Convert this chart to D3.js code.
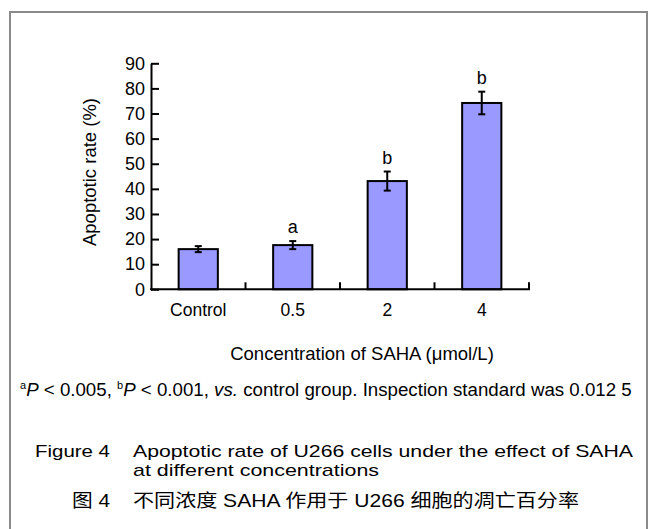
<!DOCTYPE html>
<html>
<head>
<meta charset="utf-8">
<script src="https://cdn.jsdelivr.net/npm/d3@7"></script>
<style>
  body { margin: 0; background: #fff; }
  svg { display: block; }
  text { font-family: Arial, "Liberation Sans", "Noto Sans CJK SC", sans-serif; fill: #000; }
</style>
</head>
<body>
<script>
// values
const categories = ["Control", "0.5", "2", "4"];
const means = [16.0, 17.6, 43.1, 74.2];
const errors = [1.2, 1.6, 3.8, 4.5];
const marks = ["", "a", "b", "b"];
const yTicks = [0, 10, 20, 30, 40, 50, 60, 70, 80, 90];

const width = 652;
const height = 529;
const margin = { top: 63.3, left: 151, right: 123, bottom: 239.7 };

const rows = categories.map((c, i) => ({ cat: c, mean: means[i], err: errors[i], mark: marks[i] }));

const svg = d3.create("svg")
  .attr("width", width)
  .attr("height", height);

// outer frame (bottom edge runs off the picture)
svg.append("rect")
  .attr("x", 10).attr("y", 12)
  .attr("width", 637).attr("height", 540)
  .attr("fill", "none")
  .attr("stroke", "#8a8a8a")
  .attr("stroke-width", 2);

const x = d3.scaleBand()
  .domain(categories)
  .range([margin.left, width - margin.right])
  .paddingInner(0.585)
  .paddingOuter(0.2925);

const y = d3.scaleLinear()
  .domain([0, 90])
  .range([height - margin.bottom, margin.top]);

// bars
svg.append("g")
  .selectAll("rect")
  .data(rows)
  .join("rect")
  .attr("x", d => x(d.cat))
  .attr("y", d => y(d.mean))
  .attr("width", x.bandwidth())
  .attr("height", d => y(0) - y(d.mean))
  .attr("fill", "#9999ff")
  .attr("stroke", "#000")
  .attr("stroke-width", 2);

// error bars
const eb = svg.append("g")
  .attr("stroke", "#000")
  .attr("stroke-width", 2)
  .selectAll("g")
  .data(rows)
  .join("g")
  .attr("transform", d => `translate(${x(d.cat) + x.bandwidth() / 2},0)`);
eb.append("line")
  .attr("y1", d => y(d.mean - d.err))
  .attr("y2", d => y(d.mean + d.err));
eb.append("line")
  .attr("x1", -3.5).attr("x2", 3.5)
  .attr("y1", d => y(d.mean + d.err))
  .attr("y2", d => y(d.mean + d.err));
eb.append("line")
  .attr("x1", -3.5).attr("x2", 3.5)
  .attr("y1", d => y(d.mean - d.err))
  .attr("y2", d => y(d.mean - d.err));

// significance letters
svg.append("g")
  .selectAll("text")
  .data(rows.filter(d => d.mark))
  .join("text")
  .attr("x", d => x(d.cat) + x.bandwidth() / 2)
  .attr("y", d => y(d.mean + d.err) - 8)
  .attr("text-anchor", "middle")
  .attr("font-size", 18)
  .text(d => d.mark);

// y axis
const gy = svg.append("g")
  .attr("transform", `translate(${margin.left},0)`)
  .call(d3.axisLeft(y).tickValues(yTicks).tickSizeInner(-8).tickSizeOuter(0).tickPadding(6));
gy.selectAll("path, line").attr("stroke", "#000").attr("stroke-width", 2);
gy.selectAll("text").attr("font-size", 18).attr("font-family", null);

// x axis
const gx = svg.append("g")
  .attr("transform", `translate(0,${y(0)})`)
  .call(d3.axisBottom(x).tickSize(0).tickPadding(14));
gx.select(".domain").attr("stroke", "#000").attr("stroke-width", 2)
  .attr("d", `M${margin.left - 1},0H${width - margin.right + 1}`);
gx.selectAll("text").attr("font-size", 17.5).attr("font-family", null);

// ticks between categories
const bounds = categories.map(c => x(c) - x.step() * x.paddingInner() / 2 + x.step());
svg.append("g")
  .attr("stroke", "#000")
  .attr("stroke-width", 2)
  .selectAll("line")
  .data(bounds)
  .join("line")
  .attr("x1", d => d).attr("x2", d => d)
  .attr("y1", y(0)).attr("y2", y(0) - 7);

// axis titles
svg.append("text")
  .attr("transform", `translate(96,172) rotate(-90)`)
  .attr("text-anchor", "middle")
  .attr("font-size", 18.5)
  .text("Apoptotic rate (%)");

svg.append("text")
  .attr("x", 362).attr("y", 360)
  .attr("text-anchor", "middle")
  .attr("font-size", 18.5)
  .text("Concentration of SAHA (μmol/L)");

// footnote
const fn = svg.append("text")
  .attr("x", 20).attr("y", 396)
  .attr("font-size", 18.7);
fn.append("tspan").attr("font-size", 11).attr("dy", -7).text("a");
fn.append("tspan").attr("dy", 7).attr("font-style", "italic").text("P");
fn.append("tspan").text(" < 0.005, ");
fn.append("tspan").attr("font-size", 11).attr("dy", -7).text("b");
fn.append("tspan").attr("dy", 7).attr("font-style", "italic").text("P");
fn.append("tspan").text(" < 0.001, ");
fn.append("tspan").attr("font-style", "italic").text("vs.");
fn.append("tspan").text(" control group. Inspection standard was 0.012 5");

// caption (the original lettering is a little wider than Arial)
const cap = svg.append("g").attr("font-size", 17);
cap.append("text").attr("x", 35).attr("y", 457)
  .attr("textLength", 75).attr("lengthAdjust", "spacingAndGlyphs")
  .text("Figure 4");
cap.append("text").attr("x", 133).attr("y", 457)
  .attr("textLength", 500).attr("lengthAdjust", "spacingAndGlyphs")
  .text("Apoptotic rate of U266 cells under the effect of SAHA");
cap.append("text").attr("x", 133).attr("y", 476)
  .attr("textLength", 246).attr("lengthAdjust", "spacingAndGlyphs")
  .text("at different concentrations");
cap.append("text").attr("x", 72).attr("y", 507).attr("font-size", 18)
  .attr("textLength", 38).attr("lengthAdjust", "spacingAndGlyphs")
  .text("图 4");
cap.append("text").attr("x", 133).attr("y", 507).attr("font-size", 18)
  .attr("textLength", 446).attr("lengthAdjust", "spacingAndGlyphs")
  .text("不同浓度 SAHA 作用于 U266 细胞的凋亡百分率");

document.body.appendChild(svg.node());
</script>
</body>
</html>
